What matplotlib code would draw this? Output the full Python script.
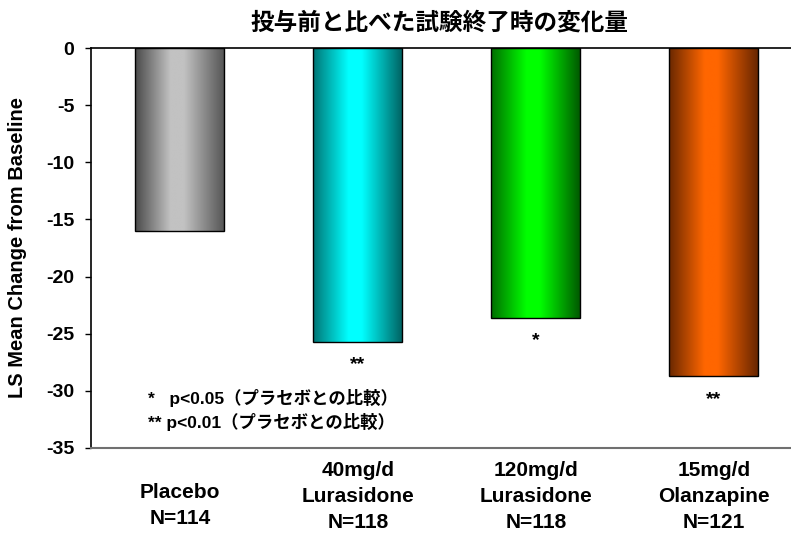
import matplotlib
matplotlib.use("Agg")
from matplotlib import pyplot as plt
from matplotlib.transforms import blended_transform_factory
import numpy as np

plt.rcParams['font.family'] = ['Liberation Sans', 'Noto Sans CJK JP', 'DejaVu Sans']
plt.rcParams['font.weight'] = 'bold'

# data
groups = ['Placebo\nN=114', '40mg/d\nLurasidone\nN=118', '120mg/d\nLurasidone\nN=118', '15mg/d\nOlanzapine\nN=121']
ls_change = [-16.0, -25.7, -23.6, -28.7]
signif = ['', '**', '*', '**']
yticks = [0, -5, -10, -15, -20, -25, -30, -35]
title = '投与前と比べた試験終了時の変化量'
ylabel = 'LS Mean Change from Baseline'
notes = ['*   p<0.05（プラセボとの比較）', '** p<0.01（プラセボとの比較）']

# cylinder shading: (left edge, highlight, right edge)
shades = [('#4a4a4a', '#c2c2c2', '#575757'),
          ('#007575', '#00ffff', '#006464'),
          ('#006e00', '#00ff00', '#005a00'),
          ('#6a2800', '#ff6600', '#682600')]


def cylinder(left, mid, right, n=200):
    c = [np.array(matplotlib.colors.to_rgb(x)) for x in (left, mid, mid, right)]
    stops = [0.0, 0.40, 0.55, 1.0]
    t = np.linspace(0, 1, n)
    img = np.zeros((1, n, 3))
    for k in range(3):
        img[0, :, k] = np.interp(t, stops, [cc[k] for cc in c])
    return img


fig = plt.figure(figsize=(7.91, 5.4), dpi=100)
ax = fig.add_axes([0.115, 0.1704, 0.885, 0.7407])

x = np.arange(len(groups))
width = 0.5
bars = ax.bar(x, ls_change, width, facecolor='none', edgecolor='black', linewidth=1.0, zorder=3)
for b, sh in zip(bars, shades):
    x0 = b.get_x()
    im = ax.imshow(cylinder(*sh), extent=(x0, x0 + width, b.get_height(), 0),
                   aspect='auto', zorder=2, interpolation='bilinear')
    im.set_clip_path(b)

for xi, v, s in zip(x, ls_change, signif):
    if s:
        ax.text(xi, v - 1.3, s, ha='center', va='top', fontsize=14, fontweight='bold')

ax.set_xlim(-0.5, 3.433)
ax.set_ylim(-35, 0)
ax.set_yticks(yticks)
ax.set_yticklabels([str(t) for t in yticks], fontsize=14, fontweight='bold')
ax.tick_params(axis='y', direction='out', length=4, width=1, pad=8)
ax.set_xticks([])

ax.spines['right'].set_visible(False)
ax.spines['bottom'].set_color('#707070')
ax.spines['bottom'].set_linewidth(1.5)
ax.spines['top'].set_linewidth(1.2)
ax.spines['left'].set_linewidth(1.2)

ax.set_ylabel(ylabel, fontsize=14.5, fontweight='bold', labelpad=14)

trans = blended_transform_factory(ax.transData, ax.transAxes)
label_y = [-0.2, -0.21, -0.21, -0.21]
for xi, g, ly in zip(x, groups, label_y):
    ax.text(xi, ly, g, transform=trans, ha='center', va='bottom',
            fontsize=15, fontweight='bold', linespacing=1.45)

ax.text(-0.18, -30.6, notes[0], ha='left', va='center', fontsize=12.5, fontweight='bold')
ax.text(-0.18, -32.7, notes[1], ha='left', va='center', fontsize=12.5, fontweight='bold')

fig.text(0.556, 0.958, title, ha='center', va='center', fontsize=17, fontweight='bold',
         family=['Noto Sans CJK JP'])

fig.savefig('out.png', dpi=100)
